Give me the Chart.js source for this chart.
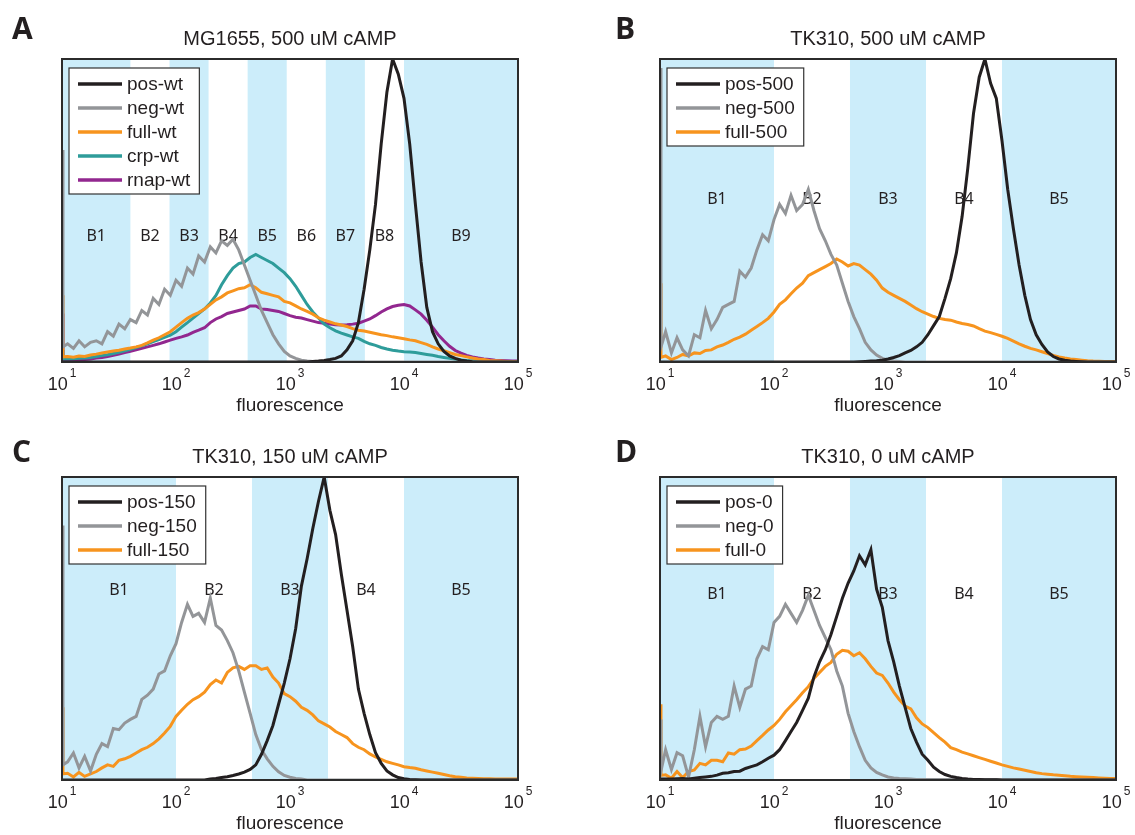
<!DOCTYPE html>
<html>
<head>
<meta charset="utf-8">
<script src="https://cdn.jsdelivr.net/npm/chart.js@4.4.1/dist/chart.umd.min.js"></script>
<style>
  html, body { margin: 0; padding: 0; background: #fff; }
  #figure { position: relative; width: 1135px; height: 835px; }
  #figure canvas { position: absolute; }
</style>
</head>
<body>
<div id="figure">
  <canvas id="panelA" width="567" height="417" style="left:0;top:0"></canvas>
  <canvas id="panelB" width="568" height="417" style="left:567px;top:0"></canvas>
  <canvas id="panelC" width="567" height="418" style="left:0;top:417px"></canvas>
  <canvas id="panelD" width="568" height="418" style="left:567px;top:417px"></canvas>
</div>
<script>
/* ─── Data ─────────────────────────────────────────────────────── */

// histogram bin centres (fluorescence, log spaced)
const fluorBins = [
  10, 10.2, 11.2, 12.6, 14.1, 15.8, 17.8, 20, 22.4, 25.1, 28.2, 31.6, 35.5, 39.8, 44.7, 50.1, 56.2, 63.1, 70.8, 79.4, 89.1,
  100, 112, 126, 141, 158, 178, 200, 224, 251, 282, 316, 355, 398, 447, 501, 562, 631, 708, 794, 891,
  1000, 1122, 1259, 1413, 1585, 1778, 1995, 2239, 2512, 2818, 3162, 3548, 3981, 4467, 5012, 5623, 6310, 7079, 7943, 8913,
  10000, 11220, 12589, 14125, 15849, 17783, 19953, 22387, 25119, 28184, 31623, 35481, 39811, 44668, 50119, 56234, 63096, 70795, 79433, 89125,
  100000
];

const xTickValues = [10, 100, 1000, 10000, 100000];

// sort-bin edges and names
const binEdgesWt = [10, 39.8, 87.7, 193, 425, 936, 2061, 4537, 10000, 100000];
const binNamesWt = ['B1', 'B2', 'B3', 'B4', 'B5', 'B6', 'B7', 'B8', 'B9'];
const binEdgesTk = [10, 100, 464, 2154, 10000, 100000];
const binNamesTk = ['B1', 'B2', 'B3', 'B4', 'B5'];

// A: MG1655, 500 uM cAMP
const posWt = [
  0, 0, 0, 0, 0, 0, 0, 0, 0, 0, 0, 0, 0, 0, 0, 0, 0, 0, 0, 0, 0,
  0, 0, 0, 0, 0, 0, 0, 0, 0, 0, 0, 0, 0, 0, 0, 0, 0, 0, 0, 0,
  0, 0, 0, 0, 0.2, 0.3, 0.5, 0.8, 1.2, 2, 4, 7, 13, 24, 37, 52, 72, 89, 100, 95,
  87, 72, 52, 33, 18, 10, 6, 3.5, 2, 1.2, 0.6, 0.3, 0.1, 0, 0, 0, 0, 0, 0, 0,
  0
];
const negWt = [
  70, 5, 6, 4.5, 7, 5, 6.5, 7, 6, 10, 8.5, 12.5, 11, 14, 13, 17, 15.5, 21, 19, 24, 22,
  27, 25, 31, 29, 35, 33, 38, 36, 40, 38.5, 40.5, 37, 32, 27, 22, 17, 13, 9, 6, 3.5,
  2, 1.2, 0.6, 0.3, 0.2, 0, 0, 0, 0, 0, 0, 0, 0, 0, 0, 0, 0, 0, 0, 0,
  0, 0, 0, 0, 0, 0, 0, 0, 0, 0, 0, 0, 0, 0, 0, 0, 0, 0, 0, 0,
  0
];
const fullWt = [
  22, 1.7, 1.8, 1.6, 2, 1.8, 2.3, 2.6, 3, 3.3, 3.6, 3.9, 4.3, 4.6, 5, 5.5, 6.3, 7.2, 8, 9, 10,
  11.5, 13, 14.4, 15.5, 16.3, 17.5, 19, 20.5, 21.5, 22.8, 23.5, 24.2, 24.5, 25.5, 24.5, 23, 22.5, 22, 21.5, 20,
  19.5, 18.5, 17.5, 16.7, 15.8, 14.6, 13.8, 13.2, 12.6, 12.2, 11.7, 11, 10.5, 10.2, 9.8, 9.4, 9, 8.7, 8.3, 8,
  7.7, 7.3, 7, 6.4, 5.8, 5, 4.3, 3.7, 3.1, 2.5, 2.1, 1.7, 1.3, 1, 0.8, 0.5, 0.4, 0.3, 0.2, 0.2,
  0.1
];
const crpWt = [
  4, 1, 1, 1.1, 1.2, 1.3, 1.5, 1.8, 2.1, 2.4, 2.8, 3.2, 3.7, 4.2, 4.8, 5.3, 6, 6.7, 7.4, 8.1, 8.9,
  10, 11.5, 13, 14.5, 16, 17.5, 19.5, 22, 25.5, 28.5, 31, 32.5, 33, 34.5, 35.5, 34.5, 33.5, 32.5, 31, 29.5,
  27.5, 25, 22, 19, 16.5, 14.5, 12.5, 11.3, 10.3, 9.5, 8.9, 8.3, 7.8, 6.8, 6, 5.5, 4.8, 4.3, 3.9, 3.6,
  3.4, 3.3, 3.1, 2.8, 2.5, 2.2, 1.8, 1.5, 1.2, 0.9, 0.7, 0.5, 0.4, 0.3, 0.2, 0.1, 0.1, 0.1, 0.1, 0.1,
  0.1
];
const rnapWt = [
  16, 0.5, 0.5, 0.6, 0.6, 0.8, 1, 1.3, 1.5, 1.8, 2.2, 2.6, 3.1, 3.5, 4, 4.5, 5, 5.5, 6, 6.6, 7.2,
  7.8, 8.3, 8.9, 9.8, 10.5, 11.3, 13, 14.2, 15, 16, 16.5, 17, 17.5, 18.5, 18.5, 17.5, 17.3, 17, 16.7, 16,
  15.3, 14.8, 14.5, 14, 13.5, 13, 12.8, 12.5, 12.3, 12.2, 12.3, 12.5, 12.8, 13.5, 14.2, 15.3, 16.5, 17.5, 18.3, 18.7,
  19, 18.5, 17.2, 15.8, 13.8, 11.5, 9, 7, 5.2, 3.8, 2.9, 2.2, 1.7, 1.3, 1, 0.8, 0.6, 0.5, 0.4, 0.3,
  0.3
];

// B: TK310, 500 uM cAMP
const pos500 = [
  0, 0, 0, 0, 0, 0, 0, 0, 0, 0, 0, 0, 0, 0, 0, 0, 0, 0, 0, 0, 0,
  0, 0, 0, 0, 0, 0, 0, 0, 0, 0, 0, 0, 0, 0, 0, 0.1, 0.2, 0.3, 0.4, 0.6,
  1, 1.5, 2.1, 3, 3.8, 5, 6.5, 9, 12, 15, 21, 27.5, 36, 48, 64, 82, 94, 100, 92, 87,
  73, 57, 44, 32, 22, 14, 9, 5.8, 3.3, 1.8, 1, 0.6, 0.3, 0.2, 0.1, 0, 0, 0, 0, 0,
  0
];
const neg500 = [
  97, 5, 10, 3, 8, 4, 2, 9, 8, 17, 11, 14, 18, 19, 20, 30, 28, 31, 37, 42, 40,
  47, 52, 49, 55, 50, 52, 57, 50, 44, 40, 35.5, 32, 26, 20, 15, 11, 6.5, 4, 2.3, 1.2,
  0.6, 0.3, 0.2, 0, 0, 0, 0, 0, 0, 0, 0, 0, 0, 0, 0, 0, 0, 0, 0, 0,
  0, 0, 0, 0, 0, 0, 0, 0, 0, 0, 0, 0, 0, 0, 0, 0, 0, 0, 0, 0,
  0
];
const full500 = [
  26, 1.5, 2, 0.8, 1.5, 2.5, 2, 3, 2.8, 3.8, 4, 5, 5.6, 6.5, 7.5, 8.2, 9.2, 10.5, 11.7, 13, 14.4,
  16.5, 19, 20.5, 22.5, 24.4, 26, 28.5, 29.5, 30.5, 31.5, 32.5, 34, 33, 31.7, 32.5, 32, 30.5, 29, 27, 24.4,
  23, 22, 21, 20, 18.8, 17.6, 16.6, 15.8, 15, 14.4, 14, 13.8, 13.2, 12.7, 12.4, 11.9, 11, 10.2, 9.7, 9.1,
  8.5, 7.8, 6.9, 6, 5.2, 4.5, 4, 3.4, 2.8, 2.2, 1.7, 1.3, 1, 0.8, 0.6, 0.4, 0.3, 0.25, 0.2, 0.2,
  0.2
];

// C: TK310, 150 uM cAMP
const pos150 = [
  0, 0, 0, 0, 0, 0, 0, 0, 0, 0, 0, 0, 0, 0, 0, 0, 0, 0, 0, 0, 0,
  0, 0, 0, 0, 0, 0, 0.3, 0.5, 0.8, 1.1, 1.5, 2, 2.6, 3.5, 5, 8.5, 13, 18, 25, 32,
  40, 50, 64, 73, 83, 92, 100, 89, 81, 68, 56, 44, 30, 22, 15, 9, 5.5, 3, 1.7, 0.8,
  0.4, 0.2, 0.1, 0, 0, 0, 0, 0, 0, 0, 0, 0, 0, 0, 0, 0, 0, 0, 0, 0,
  0
];
const neg150 = [
  84, 5, 6, 8.9, 4, 7.8, 3, 8.5, 12, 11, 17, 16.6, 18.8, 20, 21, 26.6, 28, 30, 35, 36, 41,
  45, 52, 58, 54, 55, 52, 60, 51, 49.5, 46, 42, 36, 29, 22, 15, 10, 7, 4.5, 2.7, 1.5,
  0.9, 0.5, 0.3, 0, 0, 0, 0, 0, 0, 0, 0, 0, 0, 0, 0, 0, 0, 0, 0, 0,
  0, 0, 0, 0, 0, 0, 0, 0, 0, 0, 0, 0, 0, 0, 0, 0, 0, 0, 0, 0,
  0
];
const full150 = [
  24, 2, 2.2, 1, 2.5, 1.2, 2, 2.8, 4, 5, 4.5, 6.5, 7, 7.8, 8.9, 10, 10.8, 12, 13.6, 15.5, 17.7,
  21, 23, 25, 26.5, 27.5, 29, 31.5, 33, 32, 35.5, 37, 37.5, 36.5, 37.7, 37.7, 36.5, 37, 34, 32, 28.5,
  27.5, 26, 24, 23, 21.5, 19.5, 18.5, 17.5, 16, 15, 14, 12, 10.8, 10, 8.6, 7.6, 6.8, 6, 5.5, 5,
  4.4, 4.1, 3.9, 3.4, 3, 2.6, 2.2, 1.8, 1.4, 1.1, 0.9, 0.7, 0.6, 0.5, 0.4, 0.4, 0.3, 0.3, 0.3, 0.3,
  0.3
];

// D: TK310, 0 uM cAMP
const pos0 = [
  0.5, 0.3, 0.3, 0.3, 0.4, 0.5, 0.3, 0.6, 0.8, 1, 1.2, 1.6, 2.2, 2.4, 2.8, 2.9, 3.8, 4.4, 5, 6, 7.2,
  8.2, 10, 13, 16, 19, 23, 27, 34, 39, 43, 48, 54, 60, 65, 69, 74, 71, 76, 63, 57,
  46, 39, 31, 24, 17, 12.5, 8.5, 6.5, 4.2, 2.8, 1.8, 1.2, 0.8, 0.5, 0.3, 0.2, 0.2, 0.1, 0.1, 0.1,
  0, 0, 0, 0, 0, 0, 0, 0, 0, 0, 0, 0, 0, 0, 0, 0, 0, 0, 0, 0,
  0
];
const neg0 = [
  20, 3, 10, 3.5, 9, 8, 1, 10, 21, 11, 19, 21, 20, 21, 31, 24, 30, 31, 40, 44, 43,
  52, 54, 58, 55, 52, 56, 61, 56, 51, 47, 43, 36, 31, 22, 16, 11, 6.5, 4, 2.5, 1.7,
  1, 0.7, 0.5, 0.4, 0.3, 0.2, 0.2, 0.2, 0.2, 0.2, 0.2, 0.2, 0.2, 0.2, 0.2, 0.2, 0.2, 0.2, 0.2, 0.2,
  0, 0, 0, 0, 0, 0, 0, 0, 0, 0, 0, 0, 0, 0, 0, 0, 0, 0, 0, 0,
  0
];
const full0 = [
  25, 1.5, 1.7, 0.6, 2.8, 0.8, 2.8, 3.3, 5.5, 5, 6.5, 6.5, 6, 8.9, 8.5, 10, 10.2, 11.2, 13, 14.7, 16.5,
  18, 20, 22.5, 24.5, 26.5, 28.8, 30.8, 33.5, 35.5, 37.5, 38.8, 41.5, 42.8, 42.5, 41, 42, 40, 37.5, 35.3, 34.5,
  32, 29, 26.5, 24.4, 23.5, 20.5, 18.5, 17.3, 15.6, 14, 12.5, 10.7, 10, 9.2, 8.6, 8, 7.4, 6.8, 6.2, 5.6,
  5, 4.5, 4, 3.6, 3.2, 2.8, 2.4, 2.1, 1.9, 1.7, 1.6, 1.4, 1.2, 1.1, 1, 0.9, 0.8, 0.7, 0.6, 0.5,
  0.5
];

/* ─── Styling ──────────────────────────────────────────────────── */

const BAND_BLUE = 'rgb(204,237,250)';
const INK = '#231f20';
const COLORS = {
  pos: '#231f20',
  neg: '#939598',
  full: '#f7941e',
  crp: '#2e9c9a',
  rnap: '#92278f'
};
const SANS = '"Liberation Sans", Arial, sans-serif';

/* ─── Panel decorations: bins, frame, legend, axis text ────────── */

const panelDecor = {
  id: 'panelDecor',
  beforeDatasetsDraw(chart, args, opts) {
    const { ctx, chartArea: area, scales: { x, y } } = chart;
    const edges = opts.edges;
    ctx.save();
    ctx.fillStyle = BAND_BLUE;
    for (let i = 0; i < edges.length - 1; i += 2) {
      const x0 = x.getPixelForValue(edges[i]);
      const x1 = x.getPixelForValue(edges[i + 1]);
      ctx.fillRect(x0, area.top, x1 - x0, area.bottom - area.top);
    }
    ctx.fillStyle = INK;
    ctx.font = '16px "Noto Sans", sans-serif';
    ctx.textAlign = 'center';
    ctx.textBaseline = 'middle';
    const ly = y.getPixelForValue(opts.binLabelY);
    opts.names.forEach((name, i) => {
      const mid = Math.sqrt(edges[i] * edges[i + 1]);
      ctx.fillText(name, x.getPixelForValue(mid), ly);
    });
    ctx.restore();
  },
  afterDraw(chart, args, opts) {
    const { ctx, chartArea: area, scales: { x } } = chart;
    ctx.save();

    // axes box
    ctx.strokeStyle = '#2b2b2b';
    ctx.lineWidth = 2;
    ctx.strokeRect(area.left, area.top, area.right - area.left, area.bottom - area.top);

    // legend
    const sets = chart.data.datasets;
    ctx.font = '19px ' + SANS;
    const textW = Math.max(...sets.map(d => ctx.measureText(d.label).width));
    const lx = area.left + 7, ty = area.top + 9;
    const lw = 58 + textW + 9, lh = 16 + 24 * (sets.length - 1) + 14;
    ctx.fillStyle = '#fff';
    ctx.fillRect(lx, ty, lw, lh);
    ctx.strokeStyle = '#333';
    ctx.lineWidth = 1.2;
    ctx.strokeRect(lx, ty, lw, lh);
    ctx.textAlign = 'left';
    ctx.textBaseline = 'middle';
    sets.forEach((d, i) => {
      const ry = ty + 16 + 24 * i;
      ctx.strokeStyle = d.borderColor;
      ctx.lineWidth = 3.5;
      ctx.beginPath();
      ctx.moveTo(lx + 9, ry);
      ctx.lineTo(lx + 53, ry);
      ctx.stroke();
      ctx.fillStyle = INK;
      ctx.fillText(d.label, lx + 58, ry + 1);
    });

    // decade tick labels, 10 with a raised exponent
    ctx.fillStyle = INK;
    ctx.textBaseline = 'alphabetic';
    xTickValues.forEach(v => {
      const px = x.getPixelForValue(v);
      const exp = String(Math.round(Math.log10(v)));
      ctx.font = '18px ' + SANS;
      const w1 = ctx.measureText('10').width;
      ctx.font = '12px ' + SANS;
      const w2 = ctx.measureText(exp).width;
      const x0 = px - (w1 + 2 + w2) / 2;
      ctx.font = '18px ' + SANS;
      ctx.fillText('10', x0, area.bottom + 28);
      ctx.font = '12px ' + SANS;
      ctx.fillText(exp, x0 + w1 + 2, area.bottom + 15);
    });

    // axis label and title
    ctx.textAlign = 'center';
    const cx = (area.left + area.right) / 2;
    ctx.font = '19px ' + SANS;
    ctx.fillText('fluorescence', cx, area.bottom + 49);
    ctx.font = '20px ' + SANS;
    ctx.fillText(opts.title, cx, area.top - 14);

    // panel letter
    ctx.textAlign = 'left';
    ctx.font = 'bold 30px "Open Sans", sans-serif';
    ctx.fillText(opts.letter, opts.letterX, opts.letterY);

    ctx.restore();
  }
};

/* ─── Chart factory ────────────────────────────────────────────── */

function makePanel(canvasId, panel) {
  const ctx = document.getElementById(canvasId);
  return new Chart(ctx, {
    type: 'line',
    data: {
      datasets: panel.series.map(s => ({
        label: s.label,
        data: s.values.map((v, i) => ({ x: fluorBins[i], y: v })),
        borderColor: s.color,
        backgroundColor: s.color,
        borderWidth: 3,
        pointRadius: 0,
        tension: 0,
        fill: false
      }))
    },
    options: {
      responsive: false,
      animation: false,
      events: [],
      layout: { padding: panel.padding },
      plugins: {
        legend: { display: false },
        title: { display: false },
        tooltip: { enabled: false },
        panelDecor: {
          title: panel.title,
          letter: panel.letter,
          letterX: panel.letterX,
          letterY: panel.letterY,
          edges: panel.edges,
          names: panel.names,
          binLabelY: panel.binLabelY
        }
      },
      scales: {
        x: { type: 'logarithmic', min: 10, max: 100000, display: false },
        y: { type: 'linear', min: 0, max: 100, display: false }
      }
    },
    plugins: [panelDecor]
  });
}

makePanel('panelA', {
  title: 'MG1655, 500 uM cAMP', letter: 'A', letterX: 12, letterY: 39,
  padding: { left: 62, right: 49, top: 59, bottom: 55 },
  edges: binEdgesWt, names: binNamesWt, binLabelY: 41.3,
  series: [
    { label: 'pos-wt', values: posWt, color: COLORS.pos },
    { label: 'neg-wt', values: negWt, color: COLORS.neg },
    { label: 'full-wt', values: fullWt, color: COLORS.full },
    { label: 'crp-wt', values: crpWt, color: COLORS.crp },
    { label: 'rnap-wt', values: rnapWt, color: COLORS.rnap }
  ]
});

makePanel('panelB', {
  title: 'TK310, 500 uM cAMP', letter: 'B', letterX: 48, letterY: 39,
  padding: { left: 93, right: 19, top: 59, bottom: 55 },
  edges: binEdgesTk, names: binNamesTk, binLabelY: 53.8,
  series: [
    { label: 'pos-500', values: pos500, color: COLORS.pos },
    { label: 'neg-500', values: neg500, color: COLORS.neg },
    { label: 'full-500', values: full500, color: COLORS.full }
  ]
});

makePanel('panelC', {
  title: 'TK310, 150 uM cAMP', letter: 'C', letterX: 12, letterY: 45,
  padding: { left: 62, right: 49, top: 60, bottom: 55 },
  edges: binEdgesTk, names: binNamesTk, binLabelY: 62.4,
  series: [
    { label: 'pos-150', values: pos150, color: COLORS.pos },
    { label: 'neg-150', values: neg150, color: COLORS.neg },
    { label: 'full-150', values: full150, color: COLORS.full }
  ]
});

makePanel('panelD', {
  title: 'TK310, 0 uM cAMP', letter: 'D', letterX: 48, letterY: 45,
  padding: { left: 93, right: 19, top: 60, bottom: 55 },
  edges: binEdgesTk, names: binNamesTk, binLabelY: 61.4,
  series: [
    { label: 'pos-0', values: pos0, color: COLORS.pos },
    { label: 'neg-0', values: neg0, color: COLORS.neg },
    { label: 'full-0', values: full0, color: COLORS.full }
  ]
});
</script>
</body>
</html>
